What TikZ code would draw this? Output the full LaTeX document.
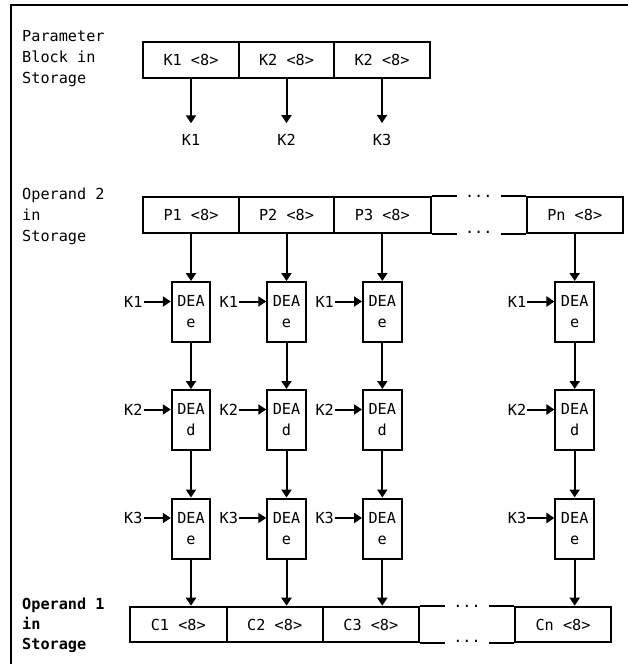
\documentclass[tikz,border=0pt]{standalone}
\usepackage{fontspec}
\setmonofont{DejaVu Sans Mono}
\usetikzlibrary{arrows.meta}
\begin{document}
\begin{tikzpicture}[x=1pt,y=-1pt,
  every node/.style={font=\ttfamily\fontsize{15.2}{21}\selectfont, inner sep=0pt},
  cell/.style={draw, line width=2pt, minimum height=36pt},
  dea/.style={draw, line width=2pt, minimum width=38.5pt, minimum height=60pt, align=center},
  arr/.style={line width=2pt, -{Triangle[width=10pt,length=8pt]}},
  side/.style={align=left, anchor=west},
  ln/.style={line width=2pt}]
\useasboundingbox (0,0) rectangle (628,664);
\draw[line width=2pt] (11,664) -- (11,5) -- (628,5);

% left labels
\node[side] (lab1) at (22,59) {Parameter\\Block in\\Storage};
\node[side] (lab2) at (22,216) {Operand 2\\in\\Storage};
\node[side, font=\ttfamily\bfseries\fontsize{15.2}{20}\selectfont] (lab3) at (22,625) {Operand 1\\in\\Storage};

% parameter block
\node[cell, minimum width=96pt] (pk1) at (191,60) {K1 <8>};
\node[cell, minimum width=95pt] (pk2) at (286.5,60) {K2 <8>};
\node[cell, minimum width=96pt] (pk3) at (382,60) {K2 <8>};
\node (kl1) at (191,140) {K1};
\node (kl2) at (286.5,140) {K2};
\node (kl3) at (382,140) {K3};
\foreach \i in {1,2,3} \draw[arr, shorten >=11pt] (pk\i.south) -- (kl\i.north);

% operand 2
\node[cell, minimum width=96pt] (p1) at (191,215.3) {P1 <8>};
\node[cell, minimum width=95pt] (p2) at (286.5,215.3) {P2 <8>};
\node[cell, minimum width=96.5pt] (p3) at (382.3,215.3) {P3 <8>};
\node[cell, minimum width=96pt] (pn) at (574.7,215.3) {Pn <8>};
\draw[ln] (p3.north east) -- ++(25.3,0);
\draw[ln] (p3.south east) -- ++(25.3,0);
\draw[ln] (pn.north west) -- ++(-25,0);
\draw[ln] (pn.south west) -- ++(-25,0);
\node[anchor=base] (dt2) at (478.8,197.8) {...};
\node[anchor=base] (db2) at (478.8,233.3) {...};

% DEA grid
\foreach \c/\x in {1/191,2/286.5,3/382.3,n/574.7}{
  \foreach \r/\y/\t/\k in {1/312/e/K1,2/420/d/K2,3/528.5/e/K3}{
    \node[dea] (d\r\c) at (\x,\y) {DEA\\\t};
    \node[anchor=east] (k\r\c) at ([xshift=-28pt,yshift=10.5pt]d\r\c.west) {\k};
    \draw[arr] ([xshift=1pt]k\r\c.east) -- ([yshift=10.5pt]d\r\c.west);
  }
}
\foreach \c in {1,2,3,n}{
  \draw[arr] (p\c.south) -- (d1\c.north);
  \draw[arr] (d1\c.south) -- (d2\c.north);
  \draw[arr] (d2\c.south) -- (d3\c.north);
}

% operand 1
\node[cell, minimum width=96.7pt, minimum height=35.6pt] (c1) at (178.3,624.5) {C1 <8>};
\node[cell, minimum width=96pt, minimum height=35.6pt] (c2) at (274.7,624.5) {C2 <8>};
\node[cell, minimum width=96.3pt, minimum height=35.6pt] (c3) at (370.8,624.5) {C3 <8>};
\node[cell, minimum width=96pt, minimum height=35.6pt] (cn) at (563,624.5) {Cn <8>};
\draw[ln] (c3.north east) -- ++(25,0);
\draw[ln] (c3.south east) -- ++(25,0);
\draw[ln] (cn.north west) -- ++(-25,0);
\draw[ln] (cn.south west) -- ++(-25,0);
\node[anchor=base] (dt1) at (467,607.2) {...};
\node[anchor=base] (db1) at (467,642.3) {...};

\draw[arr] (d31.south) -- (d31.south |- c1.north);
\draw[arr] (d32.south) -- (d32.south |- c2.north);
\draw[arr] (d33.south) -- (d33.south |- c3.north);
\draw[arr] (d3n.south) -- (d3n.south |- cn.north);
\end{tikzpicture}
\end{document}
